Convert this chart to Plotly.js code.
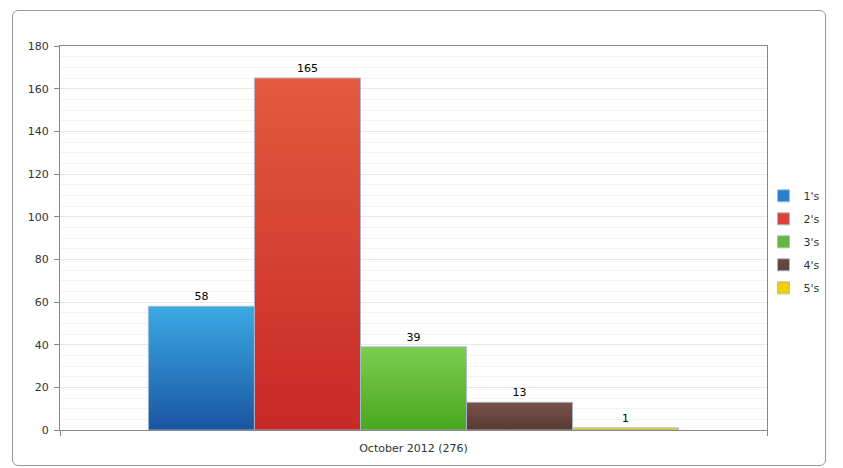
<!DOCTYPE html>
<html>
<head>
<meta charset="utf-8">
<script src="https://cdn.plot.ly/plotly-3.0.1.min.js"></script>
<style>
  html, body { margin: 0; padding: 0; background: #fff; }
  #wrap { position: relative; width: 843px; height: 468px; }
  #chart { position: absolute; left: 0; top: 0; width: 843px; height: 468px; }
  #frame {
    position: absolute; left: 12px; top: 10px; width: 812px; height: 454px;
    border: 1px solid #9a9a9a; border-radius: 6px; pointer-events: none;
  }
</style>
</head>
<body>
<div id="wrap">
  <div id="chart"></div>
  <div id="frame"></div>
</div>
<script>
// data
const category = ['October 2012 (276)'];
const seriesNames = ["1's", "2's", "3's", "4's", "5's"];
const seriesValues = [58, 165, 39, 13, 1];

// flat colour (legend) + gradient top/bottom for the bars
const baseColors = ['#2a80cc', '#d8433a', '#62b83a', '#654540', '#f0d000'];
const gradTop = ['#3caae4', '#e35a3f', '#7ccd50', '#7a5249', '#f4dc30'];
const gradBottom = ['#1a55a1', '#c72826', '#4aa71e', '#583a34', '#dcb800'];

const traces = seriesNames.map((name, i) => ({
    type: 'bar',
    name: name,
    legendgroup: 'g' + i,
    x: category,
    y: [seriesValues[i]],
    text: [String(seriesValues[i])],
    textposition: 'outside',
    cliponaxis: false,
    textfont: { family: 'DejaVu Sans, Verdana, sans-serif', size: 11, color: '#000' },
    marker: {
        color: baseColors[i],
        line: { color: 'rgba(170,185,205,0.9)', width: 1 }
    },
    hoverinfo: 'name+y'
}));

const axisFont = { family: 'DejaVu Sans, Verdana, sans-serif', size: 11, color: '#333' };

const layout = {
    width: 843,
    height: 468,
    margin: { l: 60, r: 76, t: 46, b: 38, autoexpand: false },
    paper_bgcolor: 'rgba(0,0,0,0)',
    plot_bgcolor: '#fff',
    barmode: 'group',
    bargap: 0.25,
    bargroupgap: 0,
    showlegend: true,
    legend: {
        x: 0.995, xanchor: 'left',
        y: 0.49, yanchor: 'middle',
        font: { family: 'DejaVu Sans, Verdana, sans-serif', size: 11, color: '#333' },
        itemwidth: 30,
        tracegroupgap: 4,
        traceorder: 'grouped'
    },
    xaxis: {
        type: 'category',
        tickson: 'boundaries',
        ticks: 'outside',
        ticklen: 5,
        tickcolor: '#888',
        ticklabelstandoff: 8,
        showline: true,
        linecolor: '#888',
        mirror: true,
        showgrid: false,
        tickfont: axisFont,
        fixedrange: true
    },
    yaxis: {
        range: [0, 180],
        dtick: 20,
        ticks: 'outside',
        ticklen: 5,
        tickcolor: '#888',
        ticklabelstandoff: 3,
        showline: true,
        linecolor: '#888',
        mirror: true,
        gridcolor: '#e8e8e8',
        zeroline: false,
        tickfont: axisFont,
        minor: { dtick: 5, showgrid: true, gridcolor: '#f3f3f3' },
        fixedrange: true
    }
};

Plotly.newPlot('chart', traces, layout, { displayModeBar: false, staticPlot: true }).then(gd => {
    // vertical gradients on the bars, like the original
    const svg = gd.querySelector('svg.main-svg');
    const ns = 'http://www.w3.org/2000/svg';
    const defs = document.createElementNS(ns, 'defs');
    seriesNames.forEach((_, i) => {
        const g = document.createElementNS(ns, 'linearGradient');
        g.setAttribute('id', 'barGrad' + i);
        g.setAttribute('x1', '0'); g.setAttribute('y1', '0');
        g.setAttribute('x2', '0'); g.setAttribute('y2', '1');
        [[0, gradTop[i]], [1, gradBottom[i]]].forEach(([off, col]) => {
            const s = document.createElementNS(ns, 'stop');
            s.setAttribute('offset', off);
            s.setAttribute('stop-color', col);
            g.appendChild(s);
        });
        defs.appendChild(g);
    });
    svg.insertBefore(defs, svg.firstChild);

    gd.querySelectorAll('g.trace.bars').forEach((tr, i) => {
        tr.querySelectorAll('g.point path').forEach(p => {
            p.style.fill = 'url(#barGrad' + i + ')';
        });
    });
});
</script>
</body>
</html>
